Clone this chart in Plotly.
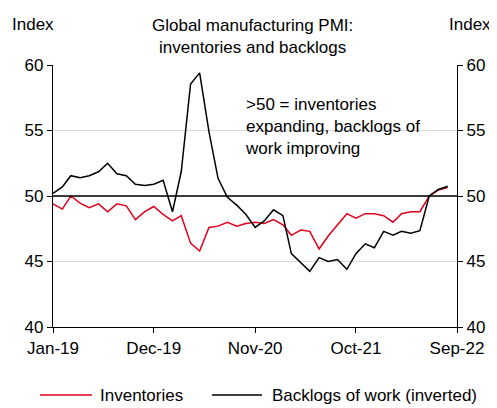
import plotly.graph_objects as go
import pandas as pd

months = pd.date_range("2019-01-01", "2022-08-01", freq="MS")

inventories = [49.4, 49.0, 50.0, 49.45, 49.1, 49.4, 48.8, 49.4, 49.25, 48.2,
               48.8, 49.2, 48.6, 48.1, 48.5, 46.4, 45.8, 47.6, 47.7, 48.0,
               47.7, 47.9, 48.0, 47.9, 48.2, 47.8, 47.0, 47.4, 47.3, 45.95,
               46.95, 47.8, 48.65, 48.3, 48.65, 48.65, 48.5, 48.0, 48.65, 48.8,
               48.8, 50.0, 50.45, 50.65]

backlogs_inverted = [50.2, 50.7, 51.55, 51.4, 51.55, 51.85, 52.5, 51.7, 51.55, 50.9,
                     50.8, 50.9, 51.2, 48.8, 51.85, 58.55, 59.4, 54.9, 51.35, 49.9,
                     49.3, 48.6, 47.6, 48.1, 48.95, 48.5, 45.6, 44.9, 44.25, 45.3,
                     45.0, 45.15, 44.4, 45.6, 46.35, 46.05, 47.3, 47.0, 47.3, 47.15,
                     47.35, 50.0, 50.5, 50.75]

tick_dates = ["2019-01-01", "2019-12-01", "2020-11-01", "2021-10-01", "2022-09-01"]
tick_labels = ["Jan-19", "Dec-19", "Nov-20", "Oct-21", "Sep-22"]
y_ticks = [40, 45, 50, 55, 60]

series_names = ["Inventories", "Backlogs of work (inverted)"]
series_colors = ["#e0001b", "#000000"]

FONT = "Liberation Sans, Arial, sans-serif"
FS = 17

# figure geometry (page has an 8px body margin)
W, H = 489, 400
L, R, T, B = 45, 40, 57, 81
PW, PH = W - L - R, H - T - B


def px(fx):
    return (fx - L) / PW


def py(fy):
    return (H - B - fy) / PH


fig = go.Figure()
fig.add_trace(go.Scatter(x=months, y=inventories, mode="lines", name=series_names[0],
                         line=dict(color=series_colors[0], width=1.5), showlegend=False))
fig.add_trace(go.Scatter(x=months, y=backlogs_inverted, mode="lines",
                         name=series_names[1], yaxis="y2",
                         line=dict(color=series_colors[1], width=1.5), showlegend=False))

fig.add_shape(type="line", xref="paper", x0=0, x1=1, yref="y", y0=50, y1=50,
              line=dict(color="black", width=1.5))

axis_common = dict(range=[40, 60], tickvals=y_ticks, showgrid=True, gridcolor="#d9d9d9",
                   gridwidth=1, showline=True, linecolor="black", linewidth=1.3,
                   ticks="outside", ticklen=5, tickcolor="black", zeroline=False,
                   tickfont=dict(family=FONT, size=FS, color="black"))

fig.update_layout(
    width=W, height=H,
    margin=dict(l=L, r=R, t=T, b=B),
    paper_bgcolor="white", plot_bgcolor="white",
    font=dict(family=FONT, size=FS, color="black"),
    xaxis=dict(type="date", range=["2019-01-01", "2022-09-01"], tickvals=tick_dates,
               ticktext=tick_labels, showgrid=False, showline=True, linecolor="black",
               linewidth=1.3, ticks="outside", ticklen=5, tickcolor="black",
               tickfont=dict(family=FONT, size=FS, color="black")),
    yaxis=dict(side="left", **axis_common),
    yaxis2=dict(side="right", overlaying="y", **{**axis_common, "showgrid": False}),
    showlegend=False,
)

fig.add_annotation(text="Global manufacturing PMI:<br>inventories and backlogs",
                   xref="paper", yref="paper", x=px(244), y=py(28), yanchor="middle",
                   xanchor="center", showarrow=False, font=dict(family=FONT, size=FS))
fig.add_annotation(text="Index", xref="paper", yref="paper", x=px(25), y=py(17),
                   yanchor="middle", xanchor="center", showarrow=False,
                   font=dict(family=FONT, size=FS))
fig.add_annotation(text="Index", xref="paper", yref="paper", x=px(462), y=py(17),
                   yanchor="middle", xanchor="center", showarrow=False,
                   font=dict(family=FONT, size=FS))
fig.add_annotation(text=">50 = inventories<br>expanding, backlogs of<br>work improving",
                   xref="paper", yref="paper", x=px(235), y=py(118), xanchor="left",
                   yanchor="middle", align="left", showarrow=False,
                   font=dict(family=FONT, size=FS))

# manual legend
leg_y = py(387)
leg_items = [(32, 84, 90), (204, 254, 262)]
for (x0, x1, xt), name, color in zip(leg_items, series_names, series_colors):
    fig.add_shape(type="line", xref="paper", yref="paper", x0=px(x0), x1=px(x1),
                  y0=leg_y, y1=leg_y, line=dict(color=color, width=1.5))
    fig.add_annotation(text=name, xref="paper", yref="paper", x=px(xt), y=leg_y,
                       xanchor="left", yanchor="middle", showarrow=False,
                       font=dict(family=FONT, size=FS))

fig.write_html("out.html")
